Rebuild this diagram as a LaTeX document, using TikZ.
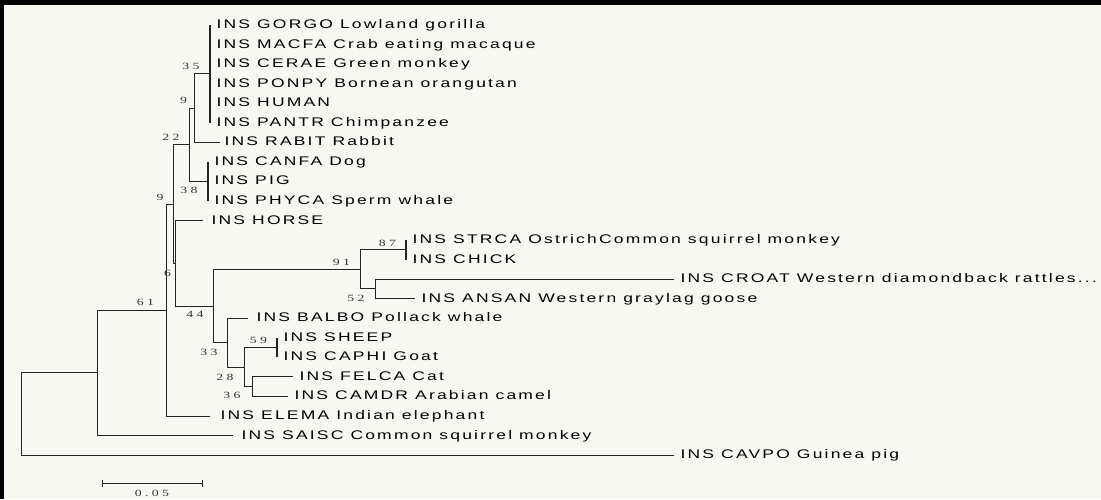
\documentclass[tikz,border=0pt]{standalone}
\usepackage{fontspec}
\newfontfamily\taxfont[FakeStretch=1.4,LetterSpace=17.5]{Liberation Sans}
\newfontfamily\numfont[FakeStretch=1.45,LetterSpace=35]{Liberation Serif}
\definecolor{bgc}{RGB}{248,248,242}
\definecolor{linec}{RGB}{35,35,35}
\begin{document}
\begin{tikzpicture}[x=1pt,y=-1pt,
  br/.style={draw=linec,line width=0.9pt},
  tipclade/.style={draw=linec,line width=1.7pt},
  taxon/.style={anchor=base west,inner sep=0pt,font=\taxfont\fontsize{12.5}{14}\selectfont},
  boot/.style={anchor=center,inner sep=0pt,text=black!80,font=\numfont\fontsize{9.5}{10}\selectfont}]
% background and frame
\fill[black] (0,0) rectangle (1101,499);
\fill[bgc] (4,5) rectangle (1101,499);
\useasboundingbox (0,0) rectangle (1101,499);

% ---------- internal nodes ----------
\coordinate (root) at (21,413.9);
\coordinate (n97)  at (97,372.78);
\coordinate (n166) at (166,310);
\coordinate (nZ)   at (173,204);
\coordinate (n190) at (189.5,144.74);
\coordinate (n194) at (194,108.09);
\coordinate (n210) at (210,73.875);
\coordinate (n38)  at (208,181.4);
\coordinate (nY)   at (175,263.27);
\coordinate (n44)  at (213,306.03);
\coordinate (n91)  at (360,269.38);
\coordinate (n87)  at (406,249.83);
\coordinate (n52)  at (375,288.93);
\coordinate (n33)  at (227,342.69);
\coordinate (n28)  at (244,367.13);
\coordinate (n59)  at (277,347.58);
\coordinate (n36)  at (252,386.68);

% ---------- tips ----------
\coordinate (tGORGO) at (210,25);
\coordinate (tMACFA) at (210,44.55);
\coordinate (tCERAE) at (210,64.1);
\coordinate (tPONPY) at (210,83.65);
\coordinate (tHUMAN) at (210,103.2);
\coordinate (tPANTR) at (210,122.75);
\coordinate (tRABIT) at (220,142.3);
\coordinate (tCANFA) at (208,161.85);
\coordinate (tPIG)   at (208,181.4);
\coordinate (tPHYCA) at (208,200.95);
\coordinate (tHORSE) at (203,220.5);
\coordinate (tSTRCA) at (406,240.05);
\coordinate (tCHICK) at (406,259.6);
\coordinate (tCROAT) at (674,279.15);
\coordinate (tANSAN) at (415,298.7);
\coordinate (tBALBO) at (248,318.25);
\coordinate (tSHEEP) at (277,337.8);
\coordinate (tCAPHI) at (277,357.35);
\coordinate (tFELCA) at (293,376.9);
\coordinate (tCAMDR) at (288,396.45);
\coordinate (tELEMA) at (210,416);
\coordinate (tSAISC) at (233,435.55);
\coordinate (tCAVPO) at (674,455.1);

% ---------- branches ----------
\draw[br] (root) |- (n97);   \draw[br] (root) |- (tCAVPO);
\draw[br] (n97) |- (n166);   \draw[br] (n97) |- (tSAISC);
\draw[br] (n166) |- (nZ);    \draw[br] (n166) |- (tELEMA);
\draw[br] (nZ) |- (n190);    \draw[br] (nZ) |- (nY);
\draw[br] (n190) |- (n194);  \draw[br] (n190) |- (n38);
\draw[br] (n194) |- (n210);  \draw[br] (n194) |- (tRABIT);
\draw[tipclade] (n210) |- (tGORGO); \draw[tipclade] (n210) |- (tPANTR);
\draw[tipclade] (n38) |- (tCANFA);  \draw[tipclade] (n38) |- (tPHYCA);
\draw[br] (nY) |- (tHORSE);  \draw[br] (nY) |- (n44);
\draw[br] (n44) |- (n91);    \draw[br] (n44) |- (n33);
\draw[br] (n91) |- (n87);    \draw[br] (n91) |- (n52);
\draw[tipclade] (n87) |- (tSTRCA); \draw[tipclade] (n87) |- (tCHICK);
\draw[br] (n52) |- (tCROAT); \draw[br] (n52) |- (tANSAN);
\draw[br] (n33) |- (tBALBO); \draw[br] (n33) |- (n28);
\draw[br] (n28) |- (n59);    \draw[br] (n28) |- (n36);
\draw[tipclade] (n59) |- (tSHEEP); \draw[tipclade] (n59) |- (tCAPHI);
\draw[br] (n36) |- (tFELCA); \draw[br] (n36) |- (tCAMDR);

% ---------- taxon labels ----------
\node[taxon] (lGORGO) at (216.4,28.5)   {INS GORGO Lowland gorilla};
\node[taxon] (lMACFA) at (216.4,48.05)  {INS MACFA Crab eating macaque};
\node[taxon] (lCERAE) at (216.4,67.6)   {INS CERAE Green monkey};
\node[taxon] (lPONPY) at (216.4,87.15)  {INS PONPY Bornean orangutan};
\node[taxon] (lHUMAN) at (216.4,106.7)  {INS HUMAN};
\node[taxon] (lPANTR) at (216.4,126.25) {INS PANTR Chimpanzee};
\node[taxon] (lRABIT) at (224.4,145.8)  {INS RABIT Rabbit};
\node[taxon] (lCANFA) at (214.4,165.35) {INS CANFA Dog};
\node[taxon] (lPIG)   at (214.4,184.9)  {INS PIG};
\node[taxon] (lPHYCA) at (214.4,204.45) {INS PHYCA Sperm whale};
\node[taxon] (lHORSE) at (211.4,224)    {INS HORSE};
\node[taxon] (lSTRCA) at (412.4,243.55) {INS STRCA OstrichCommon squirrel monkey};
\node[taxon] (lCHICK) at (412.4,263.1)  {INS CHICK};
\node[taxon] (lCROAT) at (680.4,282.65) {INS CROAT Western diamondback rattles...};
\node[taxon] (lANSAN) at (421.4,302.2)  {INS ANSAN Western graylag goose};
\node[taxon] (lBALBO) at (256.4,321.75) {INS BALBO Pollack whale};
\node[taxon] (lSHEEP) at (283.4,341.3)  {INS SHEEP};
\node[taxon] (lCAPHI) at (283.4,360.85) {INS CAPHI Goat};
\node[taxon] (lFELCA) at (299.4,380.4)  {INS FELCA Cat};
\node[taxon] (lCAMDR) at (294.4,399.95) {INS CAMDR Arabian camel};
\node[taxon] (lELEMA) at (220.4,419.5)  {INS ELEMA Indian elephant};
\node[taxon] (lSAISC) at (241.4,439.05) {INS SAISC Common squirrel monkey};
\node[taxon] (lCAVPO) at (680.4,458.6)  {INS CAVPO Guinea pig};

% ---------- bootstrap values ----------
\node[boot] (b35)  at (191,66)    {35};
\node[boot] (b9a)  at (183.5,100) {9};
\node[boot] (b22)  at (171,137)   {22};
\node[boot] (b38)  at (189,190)   {38};
\node[boot] (b9b)  at (160,197)   {9};
\node[boot] (b6)   at (167.5,273) {6};
\node[boot] (b87)  at (387.5,243) {87};
\node[boot] (b91)  at (341.5,262) {91};
\node[boot] (b52)  at (356,298)   {52};
\node[boot] (b61)  at (145.5,302.5) {61};
\node[boot] (b44)  at (195,314)   {44};
\node[boot] (b59)  at (258.5,340) {59};
\node[boot] (b33)  at (209,352)   {33};
\node[boot] (b28)  at (225,377)   {28};
\node[boot] (b36)  at (232,395)   {36};

% ---------- scale bar ----------
\coordinate (sbL) at (102,483);
\coordinate (sbR) at (202,483);
\draw[br] (sbL) -- (sbR);
\draw[br] ([yshift=3.5pt]sbL) -- ([yshift=-3.5pt]sbL);
\draw[br] ([yshift=3.5pt]sbR) -- ([yshift=-3.5pt]sbR);
\node[boot] (sblab) at (152,493) {0.05};
\end{tikzpicture}
\end{document}
